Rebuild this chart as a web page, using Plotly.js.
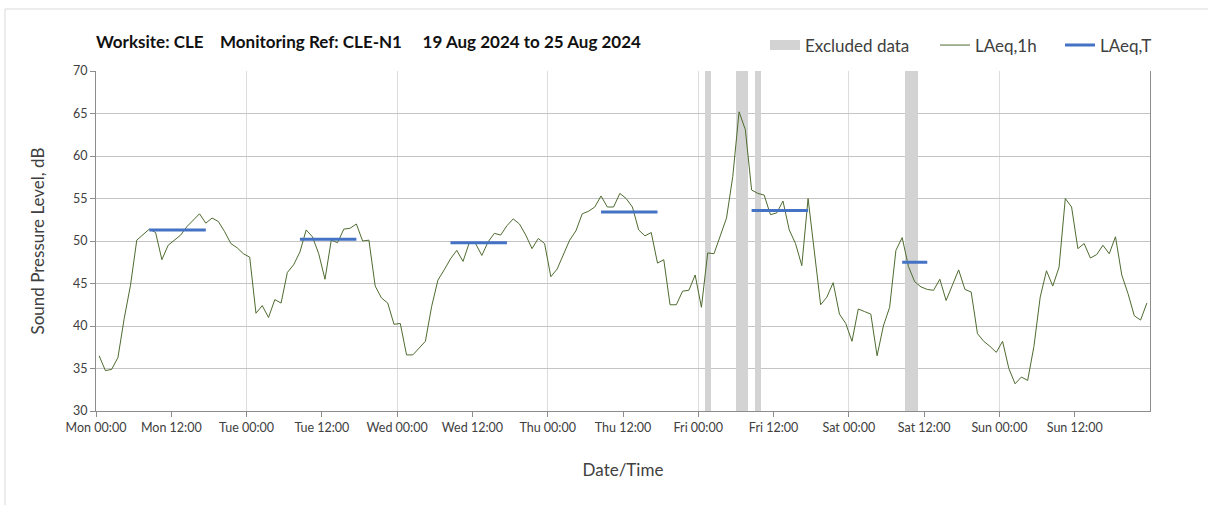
<!DOCTYPE html>
<html>
<head>
<meta charset="utf-8">
<script src="https://cdn.plot.ly/plotly-3.0.1.min.js"></script>
<style>
  html, body { margin: 0; padding: 0; background: #ffffff; }
  #chart { width: 1208px; height: 505px; }
</style>
</head>
<body>
<div id="chart"></div>
<script>
// ---- Data (hourly LAeq,1h values, plotted at the half hour) ----
const dayDates = ['2024-08-19', '2024-08-20', '2024-08-21', '2024-08-22', '2024-08-23', '2024-08-24', '2024-08-25'];

const monValues = [36.5, 34.75, 34.9, 36.3, 40.9, 44.8, 50.1, 50.7, 51.4, 51.0, 47.8, 49.5,
                   50.1, 50.7, 51.7, 52.5, 53.2, 52.1, 52.7, 52.3, 51.1, 49.7, 49.2, 48.5];
const tueValues = [48.1, 41.5, 42.4, 41.0, 43.1, 42.7, 46.3, 47.2, 48.7, 51.3, 50.5, 48.5,
                   45.5, 50.1, 49.8, 51.4, 51.5, 52.0, 50.0, 50.1, 44.7, 43.3, 42.7, 40.2];
const wedValues = [40.3, 36.6, 36.6, 37.4, 38.2, 42.3, 45.4, 46.6, 47.9, 48.9, 47.6, 49.8,
                   49.7, 48.3, 49.9, 50.9, 50.7, 51.8, 52.6, 52.0, 50.7, 49.1, 50.3, 49.7];
const thuValues = [45.8, 46.7, 48.4, 50.1, 51.2, 53.2, 53.5, 54.0, 55.3, 54.0, 54.0, 55.6,
                   55.0, 54.0, 51.3, 50.6, 51.0, 47.4, 47.8, 42.5, 42.5, 44.1, 44.2, 46.0];
const friValues = [42.2, 48.6, 48.5, 50.6, 52.7, 57.6, 65.2, 63.1, 56.0, 55.6, 55.4, 53.1,
                   53.3, 54.7, 51.3, 49.7, 47.1, 55.0, 48.9, 42.5, 43.4, 45.1, 41.4, 40.3];
const satValues = [38.2, 42.0, 41.7, 41.4, 36.5, 40.0, 42.2, 48.9, 50.4, 47.0, 45.2, 44.6,
                   44.3, 44.2, 45.5, 43.0, 44.8, 46.6, 44.3, 44.0, 39.1, 38.2, 37.6, 36.9];
const sunValues = [38.2, 35.0, 33.2, 34.0, 33.6, 37.6, 43.4, 46.5, 44.7, 46.9, 55.0, 54.0,
                   49.1, 49.7, 48.0, 48.4, 49.5, 48.5, 50.5, 46.0, 43.8, 41.2, 40.7, 42.7];

// LAeq,T periods
const periodStart = ['2024-08-19 08:30', '2024-08-20 08:30', '2024-08-21 08:30', '2024-08-22 08:30', '2024-08-23 08:30', '2024-08-24 08:30'];
const periodEnd   = ['2024-08-19 17:30', '2024-08-20 17:30', '2024-08-21 17:30', '2024-08-22 17:30', '2024-08-23 17:30', '2024-08-24 12:30'];
const periodValue = [51.3, 50.2, 49.8, 53.4, 53.6, 47.5];

// Excluded data windows
const excludedStart = ['2024-08-23 01:00', '2024-08-23 06:00', '2024-08-23 09:00', '2024-08-24 09:00'];
const excludedEnd   = ['2024-08-23 02:00', '2024-08-23 08:00', '2024-08-23 10:00', '2024-08-24 11:00'];

// Tick labels
const tickLabels = ['Mon 00:00', 'Mon 12:00', 'Tue 00:00', 'Tue 12:00', 'Wed 00:00', 'Wed 12:00',
                    'Thu 00:00', 'Thu 12:00', 'Fri 00:00', 'Fri 12:00', 'Sat 00:00', 'Sat 12:00',
                    'Sun 00:00', 'Sun 12:00'];
const tickTimes = ['2024-08-19 00:00', '2024-08-19 12:00', '2024-08-20 00:00', '2024-08-20 12:00',
                   '2024-08-21 00:00', '2024-08-21 12:00', '2024-08-22 00:00', '2024-08-22 12:00',
                   '2024-08-23 00:00', '2024-08-23 12:00', '2024-08-24 00:00', '2024-08-24 12:00',
                   '2024-08-25 00:00', '2024-08-25 12:00'];

// ---- Build traces ----
const dayValues = [monValues, tueValues, wedValues, thuValues, friValues, satValues, sunValues];
const pad = n => String(n).padStart(2, '0');
const hourX = [], hourY = [];
dayValues.forEach((vals, d) => {
  vals.forEach((v, h) => {
    hourX.push(dayDates[d] + ' ' + pad(h) + ':30');
    hourY.push(v);
  });
});

const toMs = s => new Date(s.replace(' ', 'T') + ':00Z').getTime();
const exX = [], exW = [], exY = [], exBase = [];
excludedStart.forEach((s, i) => {
  const a = toMs(s), b = toMs(excludedEnd[i]);
  exX.push(new Date((a + b) / 2).toISOString().replace('T', ' ').slice(0, 19));
  exW.push(b - a);
  exY.push(40);
  exBase.push(30);
});

const ltX = [], ltY = [];
periodStart.forEach((s, i) => {
  ltX.push(s, periodEnd[i], null);
  ltY.push(periodValue[i], periodValue[i], null);
});

const exColor = '#d3d3d3';
const traces = [
  {
    type: 'bar', name: 'Excluded data', showlegend: false,
    x: exX, y: exY, base: exBase, width: exW,
    marker: { color: exColor, line: { width: 0 } },
    hoverinfo: 'skip'
  },
  // legend key for the excluded-data bands (no drawn points)
  {
    type: 'scatter', mode: 'lines', name: 'Excluded data', legend: 'legend',
    x: exX, y: exX.map(() => null),
    line: { color: exColor, width: 10 }, hoverinfo: 'skip'
  },
  {
    type: 'scatter', mode: 'lines', name: 'LAeq,1h', legend: 'legend2',
    x: hourX, y: hourY,
    line: { color: '#4f6b30', width: 1 }
  },
  {
    type: 'scatter', mode: 'lines', name: 'LAeq,T', legend: 'legend3',
    x: ltX, y: ltY, connectgaps: false,
    line: { color: '#4472c4', width: 3 }
  }
];

const fontFam = 'Lato, "Open Sans", sans-serif';
const legendFont = { family: fontFam, size: 17, color: '#404040' };
const legendBase = { orientation: 'h', xanchor: 'left', y: 1.075, yanchor: 'middle', font: legendFont, bgcolor: 'rgba(0,0,0,0)' };
const nb = n => '&nbsp;'.repeat(n);

const layout = {
  width: 1208, height: 505,
  margin: { l: 96, r: 58, t: 71, b: 94 },
  paper_bgcolor: '#ffffff', plot_bgcolor: '#ffffff',
  font: { family: fontFam, size: 12, color: '#404040' },
  title: {
    text: '<b>Worksite: CLE' + nb(4) + 'Monitoring Ref: CLE-N1' + nb(5) + '19 Aug 2024 to 25 Aug 2024</b>',
    xref: 'container', yref: 'container',
    x: 96 / 1208, xanchor: 'left',
    y: 1 - 42 / 505, yanchor: 'middle',
    font: { family: fontFam, size: 17, color: '#111111' }
  },
  showlegend: true,
  legend: Object.assign({}, legendBase, { x: (765 - 96) / 1054 }),
  legend2: Object.assign({}, legendBase, { x: (935 - 96) / 1054 }),
  legend3: Object.assign({}, legendBase, { x: (1060 - 96) / 1054 }),
  bargap: 0,
  xaxis: {
    type: 'date',
    range: ['2024-08-19 00:00', '2024-08-26 00:00'],
    tickmode: 'array', tickvals: tickTimes, ticktext: tickLabels,
    ticks: 'outside', ticklen: 5, tickcolor: '#8c8c8c',
    showgrid: false,
    minor: { dtick: 86400000, tick0: '2024-08-19 00:00', showgrid: true, gridcolor: '#dcdcdc', gridwidth: 1, ticks: '' },
    showline: true, linecolor: '#8c8c8c', linewidth: 1,
    tickfont: { family: fontFam, size: 12.5, color: '#404040' },
    title: { text: 'Date/Time', standoff: 30, font: { family: fontFam, size: 17, color: '#404040' } },
    zeroline: false, fixedrange: true
  },
  yaxis: {
    range: [30, 70], dtick: 5, tick0: 30,
    ticks: 'outside', ticklen: 5, tickcolor: '#8c8c8c',
    showgrid: true, gridcolor: '#c4c4c4', gridwidth: 1,
    showline: true, linecolor: '#8c8c8c', linewidth: 1, mirror: true,
    tickfont: { family: fontFam, size: 12.5, color: '#404040' },
    title: { text: 'Sound Pressure Level, dB', standoff: 24, font: { family: fontFam, size: 17, color: '#404040' } },
    zeroline: false, fixedrange: true
  },
  shapes: [
    {
      type: 'rect', xref: 'paper', yref: 'paper',
      x0: (5 - 96) / 1054, x1: 1.08, y0: -0.4, y1: (411 - 9) / 340,
      line: { color: '#d9d9d9', width: 1 }, fillcolor: 'rgba(0,0,0,0)', layer: 'below'
    }
  ]
};

Plotly.newPlot('chart', traces, layout, { displayModeBar: false, staticPlot: true });
</script>
</body>
</html>
